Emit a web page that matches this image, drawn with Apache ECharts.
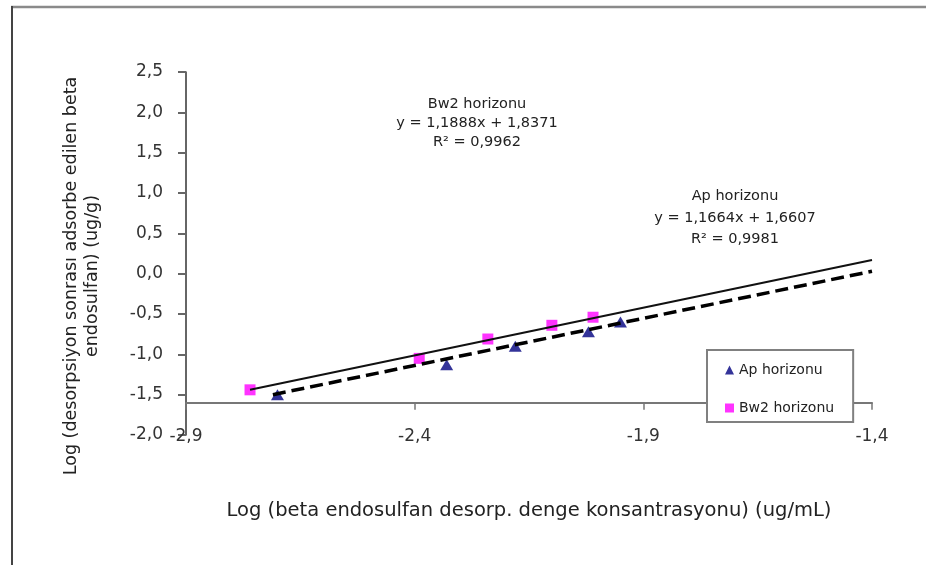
<!DOCTYPE html>
<html>
<head>
<meta charset="utf-8">
<title>Log desorpsiyon</title>
<script src="https://cdn.jsdelivr.net/npm/echarts@6/dist/echarts.min.js"></script>
<style>
  html, body { margin: 0; padding: 0; background: #fff; }
  #chart { width: 926px; height: 565px; }
</style>
</head>
<body>
<div id="chart"></div>
<script>
  // okunan degerler (log x, log y)
  const apX = [-2.70, -2.33, -2.18, -2.02, -1.95];
  const apY = [-1.50, -1.13, -0.90, -0.72, -0.60];
  const bw2X = [-2.76, -2.39, -2.24, -2.10, -2.01];
  const bw2Y = [-1.44, -1.05, -0.81, -0.64, -0.54];

  // trend cizgileri: baslangic ve bitis noktalari
  const apTrend = [[-2.71, -1.50], [-1.40, 0.03]];
  const bw2Trend = [[-2.76, -1.44], [-1.40, 0.17]];

  const xTicks = { min: -2.9, max: -1.4, step: 0.5 };
  const yTicks = { min: -2.0, max: 2.5, step: 0.5 };
  const xCross = -1.6; // x ekseni y=-1,6 noktasinda kesiyor

  const seriesNames = ['Ap horizonu', 'Bw2 horizonu'];
  const apLabel = ['Ap horizonu', 'y = 1,1664x + 1,6607', 'R² = 0,9981'];
  const bw2Label = ['Bw2 horizonu', 'y = 1,1888x + 1,8371', 'R² = 0,9962'];
  const xTitle = 'Log (beta endosulfan desorp. denge konsantrasyonu) (ug/mL)';
  const yTitle = ['Log (desorpsiyon sonrası adsorbe edilen beta', 'endosulfan) (ug/g)'];

  const font = 'DejaVu Sans';
  const comma = v => v.toFixed(1).replace('.', ',');
  const pairs = (xs, ys) => xs.map((x, i) => [x, ys[i]]);

  const grid = { left: 186, right: 54, top: 72, bottom: 130 };
  const plotH = 565 - grid.top - grid.bottom;
  const crossOffset = -((xCross - yTicks.min) / (yTicks.max - yTicks.min)) * plotH;

  const option = {
    animation: false,
    backgroundColor: '#fff',
    grid: grid,
    legend: {
      orient: 'vertical',
      left: 707,
      top: 350,
      padding: [13, 19, 7, 18],
      itemGap: 24,
      itemWidth: 9,
      itemHeight: 9,
      borderColor: '#808080',
      borderWidth: 2,
      backgroundColor: '#fff',
      data: seriesNames,
      textStyle: { fontFamily: font, fontSize: 14, color: '#222' }
    },
    xAxis: {
      type: 'value',
      min: xTicks.min,
      max: xTicks.max,
      interval: xTicks.step,
      offset: crossOffset,
      splitLine: { show: false },
      axisLine: { onZero: false, lineStyle: { color: '#777', width: 2 } },
      axisTick: { length: 7, lineStyle: { color: '#777', width: 1.5 } },
      axisLabel: {
        margin: 25,
        fontFamily: font,
        fontSize: 17,
        color: '#333',
        formatter: comma
      }
    },
    yAxis: {
      type: 'value',
      min: yTicks.min,
      max: yTicks.max,
      interval: yTicks.step,
      splitLine: { show: false },
      axisLine: { show: true, onZero: false, lineStyle: { color: '#333', width: 1.5 } },
      axisTick: { show: true, length: 8, lineStyle: { color: '#666', width: 2 } },
      axisLabel: {
        margin: 23,
        fontFamily: font,
        fontSize: 17,
        color: '#333',
        formatter: comma
      }
    },
    graphic: [
      // cerceve
      { type: 'line', shape: { x1: 11, y1: 7, x2: 926, y2: 7 }, style: { stroke: '#8a8a8a', lineWidth: 2.5 } },
      { type: 'line', shape: { x1: 12, y1: 6, x2: 12, y2: 565 }, style: { stroke: '#444', lineWidth: 2 } },
      {
        type: 'text', x: 477, y: 123,
        style: {
          text: bw2Label.join('\n'), align: 'center', verticalAlign: 'middle',
          font: '14.5px "DejaVu Sans"', lineHeight: 19, fill: '#222'
        }
      },
      {
        type: 'text', x: 735, y: 218,
        style: {
          text: apLabel.join('\n'), align: 'center', verticalAlign: 'middle',
          font: '14.5px "DejaVu Sans"', lineHeight: 21.5, fill: '#222'
        }
      },
      {
        type: 'text', x: 529, y: 511,
        style: {
          text: xTitle, align: 'center', verticalAlign: 'middle',
          font: '19.5px "DejaVu Sans"', fill: '#222'
        }
      },
      {
        type: 'text', x: 82, y: 276, rotation: Math.PI / 2,
        style: {
          text: yTitle.join('\n'), align: 'center', verticalAlign: 'middle',
          font: '17.5px "DejaVu Sans"', lineHeight: 21, fill: '#222'
        }
      }
    ],
    series: [
      {
        name: seriesNames[0],
        type: 'scatter',
        symbol: 'triangle',
        symbolSize: [13, 11],
        itemStyle: { color: '#000080' },
        z: 2,
        data: pairs(apX, apY)
      },
      {
        name: seriesNames[1],
        type: 'scatter',
        symbol: 'rect',
        symbolSize: 11,
        itemStyle: { color: '#ff00ff' },
        z: 2,
        data: pairs(bw2X, bw2Y)
      },
      {
        name: 'Ap trend',
        type: 'line',
        showSymbol: false,
        symbol: 'none',
        silent: true,
        z: 3,
        lineStyle: { color: '#000', width: 3.5, type: [13, 6] },
        data: apTrend
      },
      {
        name: 'Bw2 trend',
        type: 'line',
        showSymbol: false,
        symbol: 'none',
        silent: true,
        z: 3,
        lineStyle: { color: '#111', width: 2 },
        data: bw2Trend
      }
    ]
  };

  const myChart = echarts.init(document.getElementById('chart'));
  myChart.setOption(option);
  window.addEventListener('resize', () => {
    myChart && myChart.resize();
  });
</script>
</body>
</html>
